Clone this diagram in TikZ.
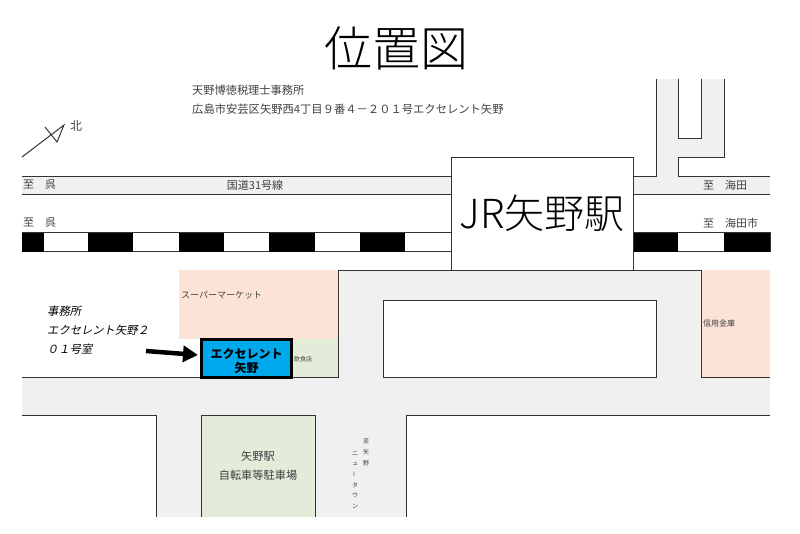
\documentclass[tikz,border=0pt]{standalone}
\usepackage{fontspec}
\usepackage{graphicx}
\setmainfont{Noto Sans CJK JP}
\newfontfamily\jpslant[FakeSlant=0.2]{Noto Sans CJK JP}
\newfontfamily\jplight{Noto Sans CJK JP Light}
\usetikzlibrary{arrows.meta,positioning}
\definecolor{roadgray}{HTML}{F0F0F0}
\definecolor{shoppeach}{HTML}{FBE3D6}
\definecolor{parkgreen}{HTML}{E2ECD9}
\definecolor{bldgblue}{HTML}{00A9EC}
\definecolor{edgegray}{HTML}{333333}
\definecolor{txtgray}{HTML}{404040}
\newcommand{\jpsize}[1]{\fontsize{#1}{#1}\selectfont}
\tikzset{
  edge/.style={draw=edgegray,line width=1pt},
  lbl/.style={inner sep=0pt,text=txtgray},
}

\begin{document}
\begin{tikzpicture}[x=1pt,y=-1pt]
\useasboundingbox (0,0) rectangle (800,533);
\fill[roadgray] (22,176) rectangle (451,194.5);
\fill[roadgray] (633,176) -- (656,176) -- (656,79) -- (678,79) -- (678,138) -- (701.5,138) -- (701.5,79) -- (724,79) -- (724,157) -- (678,157) -- (678,176) -- (770,176) -- (770,194.5) -- (633,194.5) -- cycle;
\fill[roadgray] (338,270) -- (701.5,270) -- (701.5,377.5) -- (770,377.5) -- (770,415) -- (406,415) -- (406,517) -- (156,517) -- (156,415) -- (22,415) -- (22,377.5) -- (338,377.5) -- cycle;
\fill[shoppeach] (178.5,270) rectangle (338,339);
\fill[shoppeach] (701.5,270) rectangle (770,377.5);
\fill[parkgreen] (292,339) rectangle (338,377.5);
\fill[parkgreen] (201,415) rectangle (315,517);
\draw[edge] (201,517) -- (201,415) -- (315,415) -- (315,517);
\draw[edge,fill=white] (383,300.5) rectangle (656,377.5);
\draw[edge] (22,176) -- (451,176);
\draw[edge] (22,194.5) -- (451,194.5);
\draw[edge] (633,176) -- (656,176) -- (656,79);
\draw[edge] (678,79) -- (678,138) -- (701.5,138) -- (701.5,79);
\draw[edge] (724,79) -- (724,157) -- (678,157) -- (678,176) -- (770,176);
\draw[edge] (633,194.5) -- (770,194.5);
\draw[edge] (22,232.5) rectangle (770,251.5);
\foreach \x/\w in {22/21.5,88/45,178.5/45.5,269/46,360/45,633/45,724/46}
  \fill[black] (\x,232.5) rectangle ++(\w,19);
\draw[edge] (338,377.5) -- (338,270) -- (701.5,270) -- (701.5,377.5) -- (770,377.5);
\draw[edge] (22,377.5) -- (338,377.5);
\draw[edge] (22,415) -- (156,415) -- (156,517);
\draw[edge] (406,517) -- (406,415) -- (770,415);
\draw[edge] (22,157) -- (64,125) -- (57,142) -- (45,127);

\node[edge,fill=white,minimum width=182pt,minimum height=113pt,inner sep=0pt,font=\jpsize{40}\jplight] (station) at (542,213.5) {JR矢野駅};
\node[draw=black,line width=2.5pt,fill=bldgblue,minimum width=90pt,minimum height=38pt,inner sep=0pt] (excellent) at (246.5,358.5) {};
\node[inner sep=0pt,font=\jpsize{12}\bfseries,text=black] (excellent1) at (246.5,354) {エクセレント};
\node[inner sep=0pt,font=\jpsize{12}\bfseries,text=black] (excellent2) at (246.5,368) {矢野};
\coordinate (arrowstart) at (146,351);
\coordinate (arrowtip) at (198,355);
\draw[-{Triangle[length=15pt,width=16pt]},line width=4.5pt] (arrowstart) -- (arrowtip);

\node[inner sep=0pt,font=\jpsize{48}\jplight] (title) at (396,48) {位置図};
\node[lbl,anchor=west,font=\jpsize{11.2}] (office) at (192,90) {天野博徳税理士事務所};
\node[lbl,anchor=west,font=\jpsize{11.3}] (address) at (192,109) {広島市安芸区矢野西4丁目９番４－２０１号エクセレント矢野};
\node[lbl,font=\jpsize{12}] (north) at (76,126) {北};
\node[lbl,anchor=west,font=\jpsize{11}] (kure1) at (23,185) {至　呉};
\node[lbl,anchor=west,font=\jpsize{11}] (kure2) at (23,223) {至　呉};
\node[lbl,font=\jpsize{11}] (route) at (255,185) {国道31号線};
\node[lbl,anchor=west,font=\jpsize{11}] (kaita) at (703,185) {至　海田};
\node[lbl,anchor=west,font=\jpsize{11}] (kaitashi) at (703,223) {至　海田市};
\node[lbl,anchor=west,font=\jpsize{9}] (super) at (181,295.5) {スーパーマーケット};
\node[lbl,anchor=west,font=\jpsize{8}] (bank) at (703,323) {信用金庫};
\node[lbl,anchor=west,font=\jpsize{6}] (food) at (294,359) {飲食店};
\node[text=black,inner sep=0pt,anchor=west,font=\jpsize{11.3}\jpslant] (room1) at (47,311) {事務所};
\node[text=black,inner sep=0pt,anchor=west,font=\jpsize{11.3}\jpslant] (room2) at (47,330) {エクセレント矢野２};
\node[text=black,inner sep=0pt,anchor=west,font=\jpsize{11.3}\jpslant] (room3) at (47,349) {０１号室};
\node[lbl,font=\jpsize{11.2}] (park1) at (258,456) {矢野駅};
\node[lbl,font=\jpsize{11.2}] (park2) at (258,475) {自転車等駐車場};
\foreach \ch [count=\i] in {至,矢,野}
  \node[lbl,font=\jpsize{6}] (to\i) at (366,431+10.7*\i) {\ch};
\foreach \ch [count=\i] in {ニ,ュ,\rotatebox{90}{ー},タ,ウ,ン}
  \node[lbl,font=\jpsize{6}] (town\i) at (355,442.5+10.6*\i) {\ch};
\end{tikzpicture}
\end{document}
